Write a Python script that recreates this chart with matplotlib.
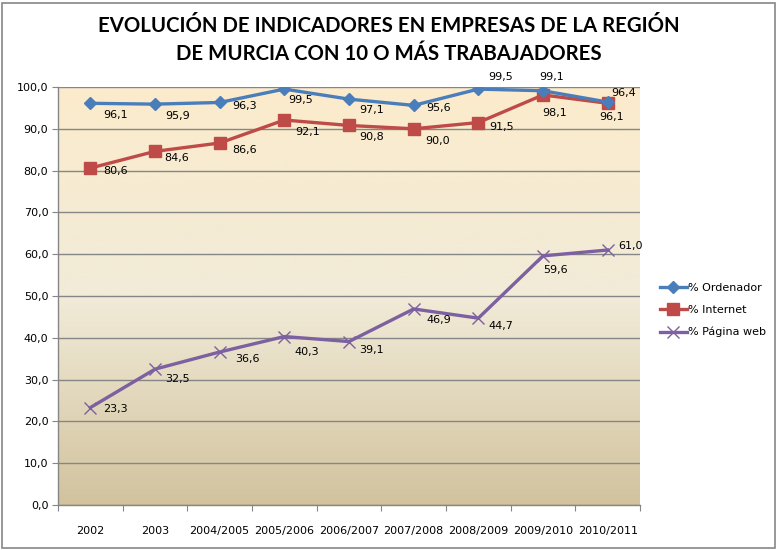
import numpy as np
import matplotlib
matplotlib.use("Agg")
import matplotlib.pyplot as plt
from matplotlib.colors import LinearSegmentedColormap
from matplotlib.patches import Rectangle

# Datos
periodos = ["2002", "2003", "2004/2005", "2005/2006", "2006/2007",
            "2007/2008", "2008/2009", "2009/2010", "2010/2011"]
ordenador = [96.1, 95.9, 96.3, 99.5, 97.1, 95.6, 99.5, 99.1, 96.4]
internet = [80.6, 84.6, 86.6, 92.1, 90.8, 90.0, 91.5, 98.1, 96.1]
pagina_web = [23.3, 32.5, 36.6, 40.3, 39.1, 46.9, 44.7, 59.6, 61.0]

# Desplazamiento de las etiquetas (pixeles, x derecha / y abajo)
off_ord = [(25, 12), (23, 12), (25, 4), (16, 11), (23, 11), (25, 3), (22, -12), (9, -14), (16, -9)]
off_int = [(25, 3), (22, 7), (25, 7), (23, 12), (23, 12), (24, 12), (23, 4), (12, 18), (4, 14)]
off_web = [(25, 1), (23, 10), (28, 7), (22, 15), (23, 8), (25, 11), (23, 8), (13, 14), (23, -4)]

W, H = 778, 550
fig = plt.figure(figsize=(W / 100, H / 100), dpi=100)
fig.patch.set_facecolor("white")
fig.patches.append(Rectangle((2 / W, 2 / H), 1 - 5 / W, 1 - 5 / H, transform=fig.transFigure,
                             fill=False, edgecolor="#868686", linewidth=1.2))

ax = fig.add_axes([58 / W, 1 - 505 / H, (640 - 58) / W, (505 - 87) / H])

# Fondo degradado del area de trazado
cmap = LinearSegmentedColormap.from_list("fondo", ["#D2C39E", "#F1EBD8", "#FCEBCC"])
grad = np.linspace(0, 1, 256).reshape(-1, 1)
ax.imshow(grad, extent=[0, 1, 0, 1], transform=ax.transAxes, aspect="auto",
          cmap=cmap, origin="lower", zorder=0)

x = np.arange(len(periodos))
ax.plot(x, ordenador, color="#4A7EBB", lw=2.4, marker="D", ms=6, zorder=4, label="% Ordenador")
ax.plot(x, internet, color="#BE4B48", lw=2.4, marker="s", ms=9, zorder=3, label="% Internet")
ax.plot(x, pagina_web, color="#7D60A0", lw=2.4, marker="x", ms=9, mew=1.0, zorder=3,
        label="% Página web")

for serie, offs in [(ordenador, off_ord), (internet, off_int), (pagina_web, off_web)]:
    for xi, v, (dx, dy) in zip(x, serie, offs):
        ax.annotate(f"{v:.1f}".replace(".", ","), (xi, v), xytext=(dx, -dy),
                    textcoords="offset pixels", ha="center", va="center",
                    fontsize=8, color="black", zorder=6)

ax.set_xlim(-0.5, len(periodos) - 0.5)
ax.set_ylim(0, 100)
ax.set_yticks(np.arange(0, 101, 10))
ax.set_yticklabels([f"{v:.1f}".replace(".", ",") for v in np.arange(0, 101, 10)])
ax.set_xticks(np.arange(-0.5, len(periodos)))
ax.set_xticklabels([])
ax.set_xticks(x, minor=True)
ax.set_xticklabels(periodos, minor=True)
ax.tick_params(axis="x", which="major", length=4, color="#868686", direction="out")
ax.tick_params(axis="x", which="minor", length=0, pad=15, labelsize=8)
ax.tick_params(axis="y", length=4, color="#868686", labelsize=8, pad=3)

ax.grid(axis="y", color="#868686", lw=1.0)
ax.set_axisbelow(True)
for s in ["top", "right"]:
    ax.spines[s].set_visible(False)
for s in ["left", "bottom"]:
    ax.spines[s].set_color("#868686")
    ax.spines[s].set_linewidth(1.0)

fig.text(0.5, 1 - 26 / H, "EVOLUCIÓN DE INDICADORES EN EMPRESAS DE LA REGIÓN",
         ha="center", va="center", fontsize=14.7, fontweight="bold", family="Lato")
fig.text(0.5, 1 - 54 / H, "DE MURCIA CON 10 O MÁS TRABAJADORES",
         ha="center", va="center", fontsize=14.7, fontweight="bold", family="Lato")

fig.legend(loc="center left", bbox_to_anchor=(650 / W, 1 - 310 / H), frameon=False,
           fontsize=8, handlelength=2.4, handletextpad=0.1, labelspacing=1.1)

fig.savefig("out.png", dpi=100)
